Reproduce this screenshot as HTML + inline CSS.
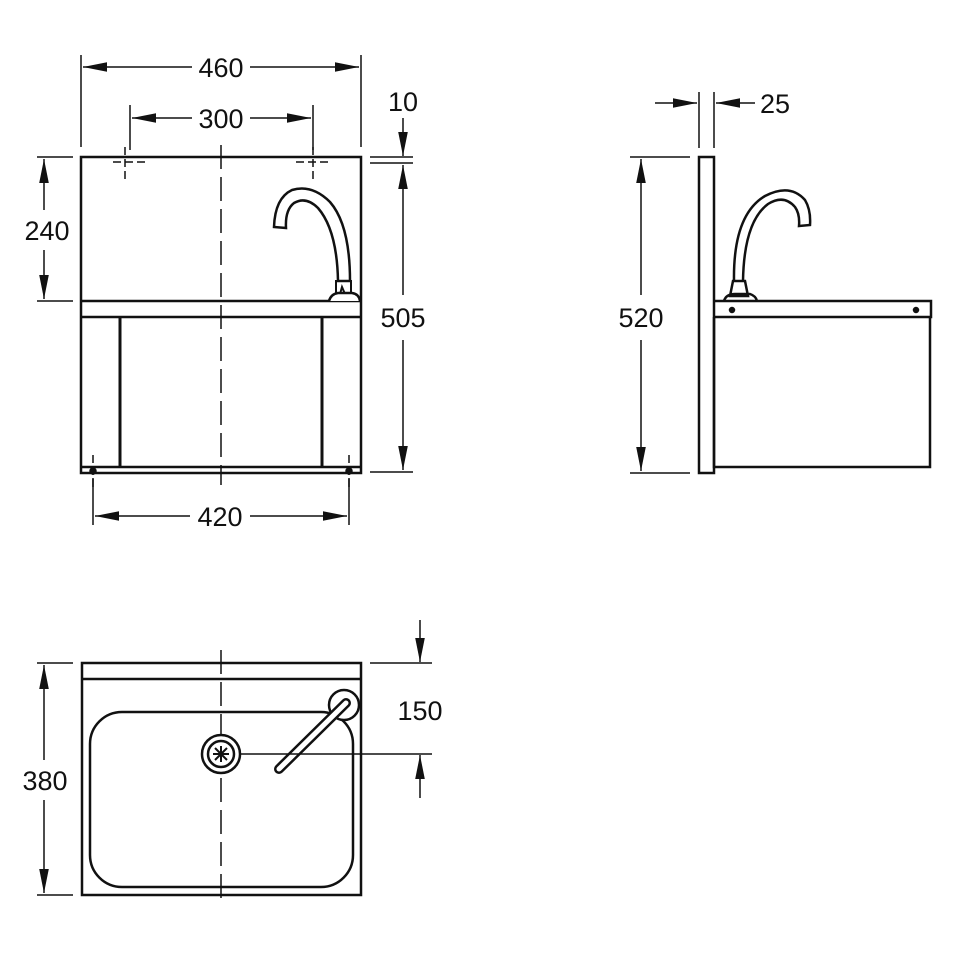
<!DOCTYPE html>
<html><head><style>html,body{margin:0;padding:0;background:#fff}svg{display:block}text{font-family:"Liberation Sans",sans-serif;font-size:27px;fill:#111}</style></head>
<body>
<svg width="960" height="960" viewBox="0 0 960 960" xmlns="http://www.w3.org/2000/svg">
<defs>
<marker id="b" viewBox="0 0 20 10" refX="20" refY="5" markerWidth="24" markerHeight="12" markerUnits="userSpaceOnUse" orient="auto-start-reverse"><path d="M0,1 L20,5 L0,9z" fill="#111"/></marker>
</defs>
<g stroke="#111" fill="none" stroke-width="1.5">
<!-- FRONT VIEW -->
<rect x="81" y="157" width="280" height="316" stroke-width="2.5"/>
<line x1="81" y1="301" x2="361" y2="301" stroke-width="2.5"/>
<line x1="81" y1="317" x2="361" y2="317" stroke-width="2.5"/>
<line x1="120" y1="317" x2="120" y2="467" stroke-width="3"/>
<line x1="322" y1="317" x2="322" y2="467" stroke-width="3"/>
<line x1="81" y1="467" x2="361" y2="467" stroke-width="2.5"/>
<line x1="221" y1="145" x2="221" y2="485" stroke-dasharray="24,8"/>
<path d="M125,147 V180 M113,162 H145 M313,147 V180 M296,162 H330" stroke-dasharray="8,4"/>
<path d="M93,455 V488 M349,455 V488" stroke-dasharray="8,4"/>
<circle cx="93" cy="471" r="3" fill="#111"/><circle cx="349" cy="471" r="3" fill="#111"/>
<path d="M350,281 Q350,225 330,202 Q312,184 292,190 Q275,198 274,227 L286,228 Q285,210 294,203 Q306,196 318,208 Q337,230 338,281 Z" stroke-width="2.5" fill="#fff"/>
<path d="M336,281 H351 V294 H336 Z M340,294 L342,287 L345,294" stroke-width="2"/>
<path d="M329,301 Q331,294 338,293 H352 Q359,294 360,301" stroke-width="2.5" fill="#fff"/>
<!-- dims front -->
<line x1="81" y1="55" x2="81" y2="147"/><line x1="361" y1="55" x2="361" y2="147"/>
<line x1="83" y1="67" x2="192" y2="67" marker-start="url(#b)"/><line x1="250" y1="67" x2="359" y2="67" marker-end="url(#b)"/>
<line x1="130" y1="105" x2="130" y2="150"/><line x1="313" y1="105" x2="313" y2="150"/>
<line x1="132" y1="118" x2="192" y2="118" marker-start="url(#b)"/><line x1="250" y1="118" x2="311" y2="118" marker-end="url(#b)"/>
<line x1="370" y1="157" x2="413" y2="157"/><line x1="370" y1="163" x2="413" y2="163"/>
<line x1="403" y1="118" x2="403" y2="156" marker-end="url(#b)"/>
<line x1="403" y1="165" x2="403" y2="295" marker-start="url(#b)"/><line x1="403" y1="340" x2="403" y2="470" marker-end="url(#b)"/>
<line x1="370" y1="472" x2="413" y2="472"/>
<line x1="37" y1="157" x2="73" y2="157"/><line x1="37" y1="301" x2="73" y2="301"/>
<line x1="44" y1="159" x2="44" y2="210" marker-start="url(#b)"/><line x1="44" y1="250" x2="44" y2="299" marker-end="url(#b)"/>
<line x1="93" y1="478" x2="93" y2="525"/><line x1="349" y1="478" x2="349" y2="525"/>
<line x1="95" y1="516" x2="190" y2="516" marker-start="url(#b)"/><line x1="250" y1="516" x2="347" y2="516" marker-end="url(#b)"/>
<!-- SIDE VIEW -->
<rect x="699" y="157" width="15" height="316" stroke-width="2.5"/>
<path d="M714,301 H931 V317 H714 M714,317 V467 H930 V317" stroke-width="2.5"/>
<circle cx="732" cy="310" r="2.5" fill="#111"/><circle cx="916" cy="310" r="2.5" fill="#111"/>
<path d="M734,281 Q733,215 765,196 Q790,183 805,200 Q811,210 810,225 L799,226 Q800,214 795,207 Q784,194 768,204 Q744,222 743,281" stroke-width="2.5" fill="#fff"/>
<path d="M733,281 H745 L748,296 H730 Z M724,301 Q726,294 735,294 H750 Q756,296 757,301" stroke-width="2.5"/>
<line x1="699" y1="92" x2="699" y2="148"/><line x1="714" y1="92" x2="714" y2="148"/>
<line x1="655" y1="103" x2="697" y2="103" marker-end="url(#b)"/><line x1="755" y1="103" x2="716" y2="103" marker-end="url(#b)"/>
<line x1="630" y1="157" x2="690" y2="157"/><line x1="630" y1="473" x2="690" y2="473"/>
<line x1="641" y1="159" x2="641" y2="295" marker-start="url(#b)"/><line x1="641" y1="340" x2="641" y2="471" marker-end="url(#b)"/>
<!-- TOP VIEW -->
<rect x="82" y="663" width="279" height="232" stroke-width="2.5"/>
<line x1="82" y1="679" x2="361" y2="679" stroke-width="2.5"/>
<rect x="90" y="712" width="263" height="175" rx="32" stroke-width="2.5"/>
<line x1="221" y1="650" x2="221" y2="905" stroke-dasharray="24,8"/>
<circle cx="221" cy="754" r="19" stroke-width="2.5" fill="#fff"/>
<circle cx="221" cy="754" r="13" stroke-width="2.5"/>
<path d="M213,754 H229 M221,746 V762 M215,748 L227,760 M227,748 L215,760" stroke-width="2"/>
<circle cx="344" cy="705" r="15" stroke-width="2.5" fill="#fff"/>
<line x1="346" y1="703" x2="279" y2="769" stroke="#111" stroke-width="10" stroke-linecap="round"/>
<line x1="346" y1="703" x2="279" y2="769" stroke="#fff" stroke-width="5" stroke-linecap="round"/>
<line x1="240" y1="754" x2="432" y2="754"/>
<line x1="370" y1="663" x2="432" y2="663"/>
<line x1="420" y1="620" x2="420" y2="662" marker-end="url(#b)"/>
<line x1="420" y1="798" x2="420" y2="755" marker-end="url(#b)"/>
<line x1="37" y1="663" x2="73" y2="663"/><line x1="37" y1="895" x2="73" y2="895"/>
<line x1="44" y1="665" x2="44" y2="760" marker-start="url(#b)"/><line x1="44" y1="800" x2="44" y2="893" marker-end="url(#b)"/>
</g>
<text x="221" y="77" text-anchor="middle">460</text>
<text x="221" y="128" text-anchor="middle">300</text>
<text x="403" y="111" text-anchor="middle">10</text>
<text x="403" y="327" text-anchor="middle">505</text>
<text x="47" y="240" text-anchor="middle">240</text>
<text x="220" y="526" text-anchor="middle">420</text>
<text x="775" y="113" text-anchor="middle">25</text>
<text x="641" y="327" text-anchor="middle">520</text>
<text x="420" y="720" text-anchor="middle">150</text>
<text x="45" y="790" text-anchor="middle">380</text>
</svg>
</body></html>
